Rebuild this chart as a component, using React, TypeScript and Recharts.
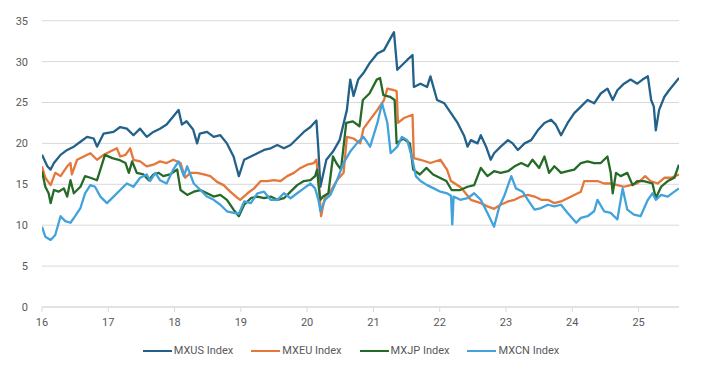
import React from 'react';
import { LineChart, Line, XAxis, YAxis, CartesianGrid } from 'recharts';

// [year (yy + fraction), value]
const MXUS: [number, number][] = [
  [16.0, 18.6], [16.08, 17.2], [16.13, 16.8], [16.18, 17.6], [16.28, 18.6], [16.38, 19.2], [16.48, 19.6],
  [16.58, 20.2], [16.68, 20.8], [16.78, 20.6], [16.83, 19.6], [16.93, 21.2], [17.08, 21.4], [17.18, 22.0],
  [17.28, 21.8], [17.38, 21.0], [17.48, 21.8], [17.58, 20.8], [17.68, 21.4], [17.78, 21.8], [17.88, 22.3],
  [17.98, 23.3], [18.06, 24.1], [18.11, 22.3], [18.18, 22.7], [18.28, 21.7], [18.34, 20.0], [18.38, 21.2],
  [18.49, 21.4], [18.59, 20.8], [18.69, 21.0], [18.79, 20.0], [18.89, 18.4], [18.97, 16.0], [19.05, 18.0],
  [19.15, 18.4], [19.25, 18.8], [19.35, 19.2], [19.45, 19.4], [19.55, 19.8], [19.65, 19.4], [19.75, 19.8],
  [19.85, 20.6], [19.95, 21.4], [20.05, 22.0], [20.14, 22.8], [20.17, 19.2], [20.2, 14.7], [20.29, 18.0],
  [20.39, 19.0], [20.49, 20.4], [20.6, 24.1], [20.65, 27.8], [20.7, 25.8], [20.77, 27.8], [20.85, 28.6],
  [20.95, 29.9], [21.06, 31.0], [21.16, 31.4], [21.24, 32.6], [21.31, 33.6], [21.36, 29.0], [21.41, 29.4],
  [21.51, 30.2], [21.59, 30.8], [21.61, 26.9], [21.71, 27.3], [21.81, 26.9], [21.86, 28.2], [21.96, 25.3],
  [22.07, 24.9], [22.17, 23.7], [22.27, 22.5], [22.37, 20.9], [22.42, 19.6], [22.47, 20.4], [22.57, 20.0],
  [22.62, 21.0], [22.7, 19.6], [22.77, 18.0], [22.82, 18.8], [22.92, 19.6], [23.03, 20.4], [23.1, 20.0],
  [23.18, 19.2], [23.28, 20.0], [23.38, 20.4], [23.48, 21.6], [23.58, 22.5], [23.68, 22.9], [23.75, 22.3],
  [23.83, 21.0], [23.93, 22.5], [24.03, 23.7], [24.13, 24.5], [24.23, 25.3], [24.33, 24.9], [24.43, 26.1],
  [24.53, 26.7], [24.61, 25.3], [24.68, 26.5], [24.78, 27.3], [24.88, 27.8], [24.98, 27.3], [25.06, 27.8],
  [25.14, 28.2], [25.19, 25.3], [25.23, 24.5], [25.26, 21.6], [25.31, 24.1], [25.39, 25.7], [25.46, 26.5],
  [25.54, 27.3], [25.61, 28.0],
];

const MXEU: [number, number][] = [
  [16.0, 17.2], [16.05, 15.8], [16.13, 14.9], [16.2, 16.4], [16.28, 16.0], [16.38, 17.2], [16.43, 17.6],
  [16.45, 16.2], [16.53, 18.0], [16.63, 18.4], [16.73, 18.8], [16.83, 18.0], [16.93, 18.6], [17.03, 19.0],
  [17.13, 19.4], [17.18, 18.4], [17.26, 18.6], [17.33, 19.4], [17.38, 18.0], [17.48, 17.8], [17.58, 17.2],
  [17.68, 17.4], [17.78, 17.8], [17.88, 17.6], [17.98, 18.0], [18.09, 17.6], [18.16, 15.8], [18.24, 16.4],
  [18.34, 16.4], [18.44, 16.2], [18.54, 16.0], [18.64, 15.3], [18.74, 14.9], [18.84, 14.1], [18.94, 13.4],
  [18.99, 13.1], [19.1, 13.9], [19.2, 14.5], [19.3, 15.4], [19.4, 15.4], [19.5, 15.5], [19.6, 15.4],
  [19.7, 16.0], [19.8, 16.4], [19.9, 17.0], [20.0, 17.4], [20.1, 17.6], [20.14, 18.0], [20.18, 14.7],
  [20.21, 11.1], [20.27, 13.5], [20.35, 14.1], [20.45, 15.5], [20.55, 16.4], [20.6, 20.8], [20.7, 20.6],
  [20.8, 20.0], [20.85, 21.8], [20.95, 22.9], [21.06, 24.1], [21.16, 25.3], [21.21, 26.7], [21.31, 26.5],
  [21.35, 26.4], [21.37, 22.5], [21.46, 23.1], [21.59, 23.5], [21.61, 18.2], [21.71, 18.0], [21.86, 17.6],
  [22.01, 18.0], [22.11, 16.8], [22.17, 15.4], [22.32, 14.6], [22.47, 13.1], [22.62, 12.7], [22.72, 12.3],
  [22.82, 12.0], [22.92, 12.5], [23.03, 12.9], [23.13, 13.1], [23.23, 13.5], [23.33, 13.7], [23.43, 13.5],
  [23.53, 13.1], [23.63, 13.1], [23.73, 12.7], [23.83, 12.9], [23.93, 13.3], [24.03, 13.7], [24.13, 14.1],
  [24.18, 15.4], [24.28, 15.4], [24.38, 15.4], [24.48, 15.1], [24.58, 15.1], [24.68, 14.9], [24.78, 14.7],
  [24.88, 14.9], [24.98, 15.1], [25.1, 16.0], [25.18, 15.4], [25.29, 15.1], [25.39, 15.8], [25.49, 15.8],
  [25.61, 16.2],
];

const MXJP: [number, number][] = [
  [16.0, 16.6], [16.05, 14.7], [16.1, 13.9], [16.13, 12.7], [16.18, 14.3], [16.25, 14.1], [16.33, 14.5],
  [16.38, 13.5], [16.43, 15.5], [16.48, 13.9], [16.58, 14.7], [16.65, 16.0], [16.73, 15.8], [16.83, 15.5],
  [16.88, 16.8], [16.95, 18.6], [17.06, 18.2], [17.16, 18.0], [17.26, 17.6], [17.31, 16.4], [17.36, 17.8],
  [17.43, 16.4], [17.53, 16.2], [17.61, 15.5], [17.68, 16.2], [17.76, 16.4], [17.83, 16.0], [17.93, 16.2],
  [18.04, 16.8], [18.09, 14.3], [18.19, 13.7], [18.29, 14.1], [18.39, 14.3], [18.49, 13.9], [18.59, 13.5],
  [18.69, 13.7], [18.79, 13.1], [18.89, 11.9], [18.97, 11.1], [19.05, 12.5], [19.15, 13.3], [19.25, 13.5],
  [19.35, 13.3], [19.45, 13.5], [19.55, 13.1], [19.65, 13.3], [19.75, 14.1], [19.85, 14.9], [19.95, 15.4],
  [20.05, 15.5], [20.12, 16.0], [20.15, 16.8], [20.18, 14.3], [20.2, 13.1], [20.24, 13.5], [20.32, 13.9],
  [20.39, 18.4], [20.44, 17.6], [20.51, 16.8], [20.59, 22.5], [20.69, 22.7], [20.79, 22.1], [20.84, 25.3],
  [20.94, 26.1], [21.05, 27.8], [21.1, 28.0], [21.15, 25.9], [21.25, 25.7], [21.32, 25.3], [21.35, 20.0],
  [21.45, 20.6], [21.55, 20.0], [21.6, 16.8], [21.7, 16.2], [21.8, 17.0], [21.9, 16.2], [22.0, 15.8],
  [22.1, 15.4], [22.18, 14.3], [22.31, 14.3], [22.42, 14.7], [22.52, 14.9], [22.62, 17.0], [22.72, 16.0],
  [22.82, 16.6], [22.92, 16.4], [23.03, 16.6], [23.13, 17.2], [23.23, 17.6], [23.33, 17.2], [23.4, 18.0],
  [23.5, 17.0], [23.58, 18.4], [23.65, 16.4], [23.73, 17.2], [23.83, 16.4], [23.93, 16.6], [24.03, 16.8],
  [24.13, 17.6], [24.23, 17.8], [24.33, 17.6], [24.43, 17.6], [24.53, 18.4], [24.58, 16.4], [24.61, 13.9],
  [24.66, 16.4], [24.73, 16.0], [24.83, 16.4], [24.91, 14.9], [24.98, 15.4], [25.08, 15.4], [25.21, 15.1],
  [25.26, 13.3], [25.34, 14.7], [25.44, 15.4], [25.54, 15.8], [25.61, 17.4],
];

const MXCN: [number, number][] = [
  [16.0, 9.8], [16.05, 8.6], [16.13, 8.2], [16.2, 8.8], [16.28, 11.1], [16.35, 10.5], [16.43, 10.3],
  [16.5, 11.1], [16.58, 12.1], [16.65, 13.9], [16.73, 14.9], [16.8, 14.7], [16.88, 13.5], [16.98, 12.7],
  [17.08, 13.5], [17.18, 14.3], [17.28, 15.1], [17.38, 14.7], [17.48, 15.8], [17.58, 16.2], [17.63, 15.4],
  [17.71, 16.4], [17.78, 15.5], [17.88, 15.1], [17.98, 16.8], [18.06, 17.8], [18.14, 16.0], [18.19, 17.2],
  [18.29, 15.1], [18.39, 14.3], [18.49, 13.5], [18.59, 13.1], [18.69, 12.5], [18.79, 11.7], [18.89, 11.5],
  [18.97, 11.4], [19.05, 12.9], [19.15, 12.7], [19.25, 13.9], [19.35, 14.1], [19.45, 13.1], [19.55, 13.1],
  [19.65, 13.9], [19.75, 13.3], [19.85, 13.9], [19.95, 14.5], [20.05, 15.1], [20.12, 14.5], [20.17, 13.1],
  [20.2, 11.7], [20.27, 13.1], [20.35, 13.7], [20.45, 15.5], [20.55, 17.6], [20.65, 19.0], [20.75, 20.0],
  [20.85, 20.8], [20.95, 19.6], [21.06, 22.5], [21.13, 24.9], [21.21, 22.5], [21.26, 18.8], [21.36, 19.6],
  [21.43, 20.8], [21.51, 20.4], [21.59, 18.0], [21.64, 16.0], [21.71, 15.4], [21.81, 14.9], [21.91, 14.5],
  [22.01, 14.1], [22.11, 13.9], [22.17, 13.6], [22.19, 10.1], [22.21, 13.5], [22.31, 13.1], [22.42, 13.3],
  [22.52, 13.9], [22.62, 13.1], [22.72, 11.5], [22.82, 9.8], [22.9, 12.3], [22.97, 13.5], [23.08, 16.0],
  [23.15, 14.5], [23.25, 14.1], [23.33, 13.1], [23.43, 11.9], [23.53, 12.1], [23.63, 12.5], [23.73, 12.3],
  [23.83, 12.5], [23.93, 11.5], [24.06, 10.3], [24.13, 10.9], [24.23, 11.1], [24.33, 11.7], [24.38, 13.1],
  [24.48, 11.7], [24.58, 11.5], [24.68, 10.7], [24.76, 14.5], [24.83, 11.9], [24.93, 11.3], [25.03, 11.1],
  [25.14, 13.1], [25.21, 13.9], [25.26, 13.1], [25.34, 13.7], [25.44, 13.5], [25.54, 14.1], [25.61, 14.5],
];

const X_TICKS = [16, 17, 18, 19, 20, 21, 22, 23, 24, 25];
const Y_TICKS = [0, 5, 10, 15, 20, 25, 30, 35];

const SERIES = [
  { name: 'MXUS Index', points: MXUS, color: '#22618a' },
  { name: 'MXEU Index', points: MXEU, color: '#e5773a' },
  { name: 'MXJP Index', points: MXJP, color: '#256b27' },
  { name: 'MXCN Index', points: MXCN, color: '#42a2dc' },
];

const toRows = (pts: [number, number][]) => pts.map(([t, v]) => ({ t, v }));

const TICK = { fontSize: 11, fill: '#595959' };

export default function App() {
  return (
    <div style={{ width: 686, fontFamily: 'Roboto, "Noto Sans", sans-serif' }}>
      <LineChart width={686} height={325} margin={{ top: 12.7, right: 15, left: 0, bottom: 0 }}>
        <CartesianGrid vertical={false} stroke="#d9d9d9" />
        <XAxis
          type="number" dataKey="t" domain={[16, 25.61]} ticks={X_TICKS} allowDataOverflow
          tick={TICK} stroke="#d9d9d9" tickSize={5} tickMargin={6} height={26}
        />
        <YAxis
          type="number" domain={[0, 35]} ticks={Y_TICKS} tick={TICK}
          axisLine={false} tickLine={false} width={34} tickMargin={8}
        />
        {SERIES.map(s => (
          <Line
            key={s.name} data={toRows(s.points)} dataKey="v" name={s.name}
            stroke={s.color} strokeWidth={2.3} dot={false} isAnimationActive={false}
            type="linear" strokeLinejoin="round"
          />
        ))}
      </LineChart>
      <div style={{ display: 'flex', justifyContent: 'center', gap: 18, marginTop: 11, fontSize: 11, color: '#595959' }}>
        {SERIES.map(s => (
          <div key={s.name} style={{ display: 'flex', alignItems: 'center', gap: 2 }}>
            <div style={{ width: 29, height: 2, background: s.color }} />
            <span>{s.name}</span>
          </div>
        ))}
      </div>
    </div>
  );
}
